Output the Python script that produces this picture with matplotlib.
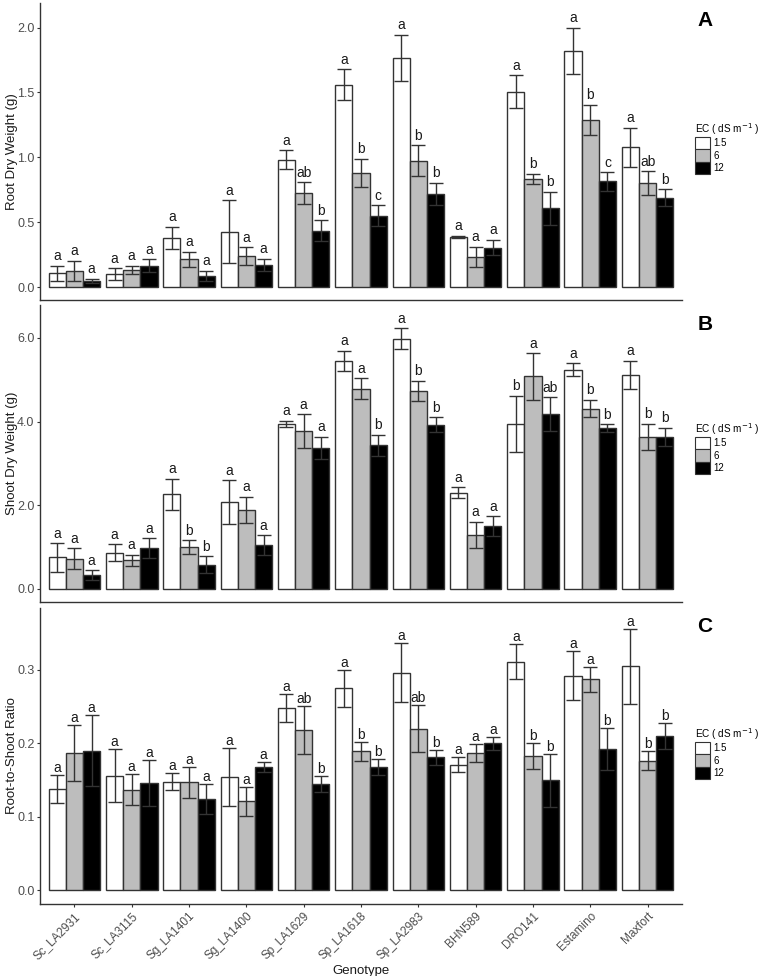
import matplotlib.pyplot as plt
import numpy as np
from matplotlib.patches import Patch

plt.rcParams['font.family'] = ['Liberation Sans', 'DejaVu Sans']

# ------------------------------------------------------------------------------
# Data (mean, error and letter per EC level).
# ------------------------------------------------------------------------------

genotypes = ["Sc_LA2931", "Sc_LA3115", "Sg_LA1401", "Sg_LA1400", "Sp_LA1629",
             "Sp_LA1618", "Sp_LA2983", "BHN589", "DRO141", "Estamino", "Maxfort"]
ec_levels = ["1.5", "6", "12"]

root_15 = [0.106, 0.100, 0.380, 0.428, 0.982, 1.559, 1.765, 0.387, 1.505, 1.820, 1.077]
root_6 = [0.124, 0.130, 0.214, 0.237, 0.724, 0.881, 0.974, 0.232, 0.832, 1.289, 0.802]
root_12 = [0.049, 0.165, 0.085, 0.173, 0.433, 0.549, 0.719, 0.304, 0.606, 0.814, 0.688]
root_err_15 = [0.060, 0.045, 0.085, 0.240, 0.072, 0.120, 0.180, 0.006, 0.126, 0.180, 0.152]
root_err_6 = [0.080, 0.033, 0.060, 0.070, 0.083, 0.107, 0.120, 0.077, 0.040, 0.116, 0.090]
root_err_12 = [0.015, 0.050, 0.040, 0.047, 0.080, 0.080, 0.085, 0.060, 0.126, 0.070, 0.067]
root_let_15 = ["a"] * 11
root_let_6 = ["a", "a", "a", "a", "ab", "b", "b", "a", "b", "b", "ab"]
root_let_12 = ["a", "a", "a", "a", "b", "c", "b", "a", "b", "c", "b"]

shoot_15 = [0.749, 0.860, 2.255, 2.070, 3.950, 5.450, 5.980, 2.295, 3.950, 5.240, 5.120]
shoot_6 = [0.717, 0.677, 0.996, 1.888, 3.777, 4.790, 4.730, 1.283, 5.080, 4.310, 3.630]
shoot_12 = [0.319, 0.964, 0.574, 1.044, 3.370, 3.430, 3.920, 1.490, 4.180, 3.840, 3.630]
shoot_err_15 = [0.34, 0.20, 0.375, 0.53, 0.07, 0.24, 0.255, 0.13, 0.67, 0.16, 0.33]
shoot_err_6 = [0.25, 0.13, 0.16, 0.31, 0.40, 0.25, 0.25, 0.32, 0.56, 0.21, 0.32]
shoot_err_12 = [0.12, 0.24, 0.20, 0.23, 0.26, 0.255, 0.18, 0.24, 0.40, 0.10, 0.22]
shoot_let_15 = ["a", "a", "a", "a", "a", "a", "a", "a", "b", "a", "a"]
shoot_let_6 = ["a", "a", "b", "a", "a", "a", "b", "a", "a", "b", "b"]
shoot_let_12 = ["a", "a", "b", "a", "a", "b", "b", "a", "ab", "b", "b"]

ratio_15 = [0.138, 0.156, 0.148, 0.154, 0.248, 0.275, 0.296, 0.171, 0.311, 0.292, 0.305]
ratio_6 = [0.187, 0.137, 0.147, 0.121, 0.218, 0.189, 0.220, 0.187, 0.183, 0.287, 0.176]
ratio_12 = [0.190, 0.146, 0.124, 0.168, 0.145, 0.168, 0.181, 0.200, 0.150, 0.192, 0.210]
ratio_err_15 = [0.019, 0.036, 0.011, 0.039, 0.019, 0.025, 0.040, 0.010, 0.024, 0.033, 0.051]
ratio_err_6 = [0.038, 0.021, 0.021, 0.020, 0.033, 0.013, 0.032, 0.012, 0.018, 0.017, 0.013]
ratio_err_12 = [0.048, 0.031, 0.020, 0.007, 0.011, 0.011, 0.010, 0.009, 0.036, 0.029, 0.018]
ratio_let_15 = ["a"] * 11
ratio_let_6 = ["a", "a", "a", "a", "ab", "b", "ab", "a", "b", "a", "b"]
ratio_let_12 = ["a", "a", "a", "a", "b", "b", "b", "a", "b", "b", "b"]

# ------------------------------------------------------------------------------
# Drawing.
# ------------------------------------------------------------------------------

fills = ["white", "#bdbdbd", "black"]
edge = "#333333"
txt_grey = "#4d4d4d"

panels = [
    dict(vals=[root_15, root_6, root_12],
         errs=[root_err_15, root_err_6, root_err_12],
         lets=[root_let_15, root_let_6, root_let_12],
         ylabel="Root Dry Weight (g)", ylim=(-0.1, 2.19),
         ticks=[0.0, 0.5, 1.0, 1.5, 2.0], tag="A",
         rect=[0.0525, 0.6926, 0.8425, 0.3044], off=0.02),
    dict(vals=[shoot_15, shoot_6, shoot_12],
         errs=[shoot_err_15, shoot_err_6, shoot_err_12],
         lets=[shoot_let_15, shoot_let_6, shoot_let_12],
         ylabel="Shoot Dry Weight (g)", ylim=(-0.32, 6.79),
         ticks=[0.0, 2.0, 4.0, 6.0], tag="B",
         rect=[0.0525, 0.3832, 0.8425, 0.3043], off=0.06),
    dict(vals=[ratio_15, ratio_6, ratio_12],
         errs=[ratio_err_15, ratio_err_6, ratio_err_12],
         lets=[ratio_let_15, ratio_let_6, ratio_let_12],
         ylabel="Root-to-Shoot Ratio", ylim=(-0.0186, 0.384),
         ticks=[0.0, 0.1, 0.2, 0.3], tag="C",
         rect=[0.0525, 0.0738, 0.8425, 0.3032], off=0.0),
]

fig = plt.figure(figsize=(7.62, 9.76), dpi=100)
x = np.arange(1, len(genotypes) + 1)
bw = 0.3
legend_y = [1 - 121 / 976, 1 - 421 / 976, 1 - 726 / 976]
tag_y = [1 - 20 / 976, 1 - 325 / 976, 1 - 627 / 976]

for i, p in enumerate(panels):
    ax = fig.add_axes(p["rect"])
    for k in range(3):
        xs = x + (k - 1) * bw
        ax.bar(xs, p["vals"][k], width=bw, color=fills[k], edgecolor=edge,
               linewidth=1.0, zorder=2)
        ax.errorbar(xs, p["vals"][k], yerr=p["errs"][k], fmt="none",
                    ecolor=edge, elinewidth=1.0, capsize=5.2, capthick=1.0,
                    zorder=3)
        for xx, v, e, lab in zip(xs, p["vals"][k], p["errs"][k], p["lets"][k]):
            ax.text(xx, v + e + p["off"], lab, ha="center", va="bottom",
                    fontsize=10, color="#1a1a1a")

    ax.set_xlim(0.4, 11.6)
    ax.set_ylim(*p["ylim"])
    ax.set_yticks(p["ticks"])
    ax.set_yticklabels(["{:.1f}".format(t) for t in p["ticks"]],
                       fontsize=9, color=txt_grey)
    ax.set_ylabel(p["ylabel"], fontsize=9.5, color="#1a1a1a")
    ax.yaxis.set_label_coords(-0.0345, 0.5)
    ax.tick_params(axis="y", length=2.5, width=0.8, color=edge, pad=1.5)
    for s in ["top", "right"]:
        ax.spines[s].set_visible(False)
    for s in ["left", "bottom"]:
        ax.spines[s].set_color(edge)
        ax.spines[s].set_linewidth(1.0)

    if i < 2:
        ax.set_xticks([])
    else:
        ax.set_xticks(x)
        ax.set_xticklabels(genotypes, rotation=45, ha="right",
                           rotation_mode="anchor", fontsize=8.5, color=txt_grey)
        ax.tick_params(axis="x", length=2.5, width=0.8, color=edge, pad=2)
        ax.set_xlabel("Genotype", fontsize=9.5, color="#1a1a1a", labelpad=2)

    handles = [Patch(facecolor=fills[k], edgecolor=edge, linewidth=0.8)
               for k in range(3)]
    fig.legend(handles, ec_levels, title="EC ( dS m$^{-1}$ )",
               loc="upper left", bbox_to_anchor=(0.912, legend_y[i]),
               frameon=False, fontsize=7, title_fontsize=7.2,
               handlelength=1.5, handleheight=1.6, labelspacing=0.0,
               handletextpad=0.4, borderaxespad=0, borderpad=0,
               alignment="left")

    fig.text(0.925, tag_y[i], p["tag"], fontsize=15, fontweight="bold",
             ha="center", va="center")

plt.savefig("out.png", dpi=100)
